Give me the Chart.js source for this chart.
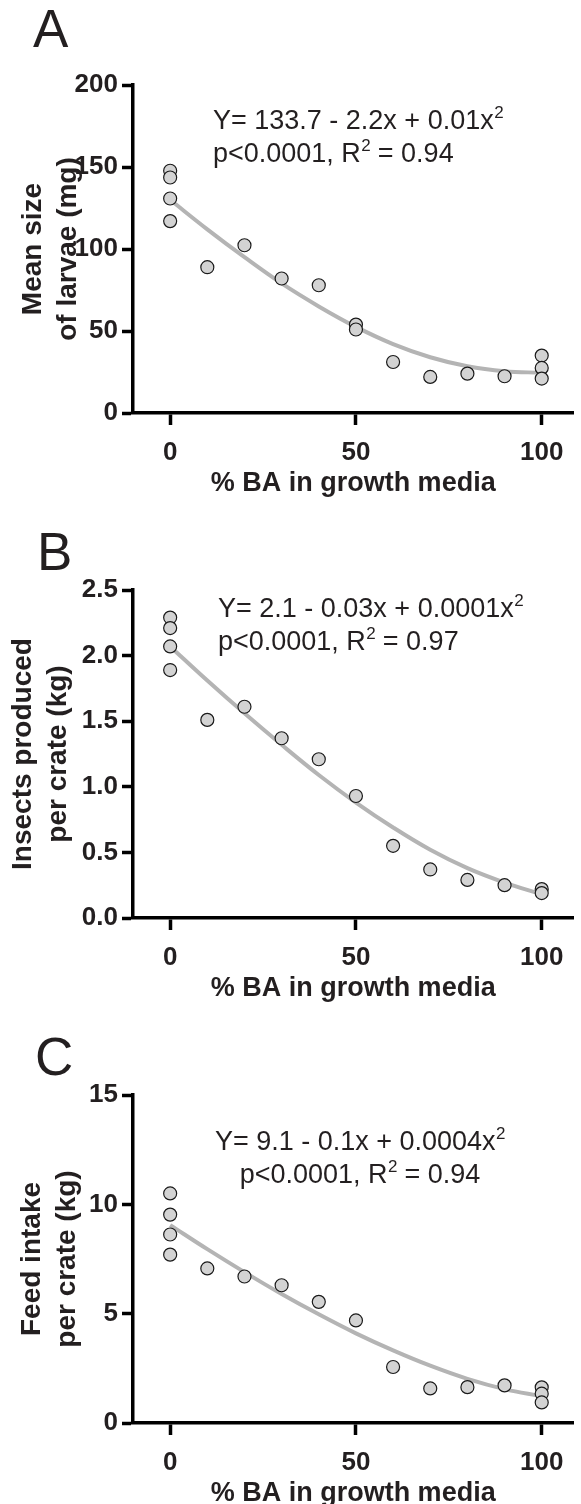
<!DOCTYPE html>
<html>
<head>
<meta charset="utf-8">
<script src="https://cdn.jsdelivr.net/npm/chart.js@4.4.1/dist/chart.umd.min.js"></script>
<style>
  html, body { margin: 0; padding: 0; background: #fff; }
  body { width: 581px; height: 1504px; overflow: hidden; position: relative; }
  .panel { position: absolute; left: 0; width: 581px; height: 505px; }
</style>
</head>
<body>
<div class="panel" style="top:0"><canvas id="chartA"></canvas></div>
<div class="panel" style="top:505px"><canvas id="chartB"></canvas></div>
<div class="panel" style="top:1010px"><canvas id="chartC"></canvas></div>
<script>
/**
 * Three quadratic-fit scatter panels (A, B, C) vs % BA in growth media.
 */
const FONT = "'Liberation Sans', Arial, Helvetica, sans-serif";
const INK = "#231f20";

const X_TICKS = [0, 50, 100];
const X_TITLE = "% BA in growth media";
const FIT_X = [0, 10, 20, 30, 40, 50, 60, 70, 80, 90, 100];

// Panel A – mean size of larvae (mg)
const A_X = [0, 0, 0, 0, 10, 20, 30, 40, 50, 50, 60, 70, 80, 90, 100, 100, 100];
const A_Y = [147.7, 143.6, 130.8, 117, 88.9, 102.3, 82, 77.9, 53.9, 50.9, 31.1, 22, 24, 22.4, 35, 27.5, 21];
const A_FIT = [130, 112, 95, 79, 65, 52.5, 42, 34, 28.5, 25.5, 24.5];
const A_TICKS = [0, 50, 100, 150, 200];
const A_TITLE = ["Mean size", "of larvae (mg)"];
const A_EQ = ["Y= 133.7 - 2.2x + 0.01x", "p<0.0001, R", " = 0.94"];

// Panel B – insects produced per crate (kg)
const B_X = [0, 0, 0, 0, 10, 20, 30, 40, 50, 60, 70, 80, 90, 100, 100];
const B_Y = [2.29, 2.21, 2.07, 1.89, 1.51, 1.61, 1.37, 1.21, 0.93, 0.55, 0.37, 0.29, 0.25, 0.22, 0.19];
const B_FIT = [2.07, 1.81, 1.56, 1.32, 1.09, 0.88, 0.69, 0.52, 0.38, 0.27, 0.18];
const B_TICKS = [0, 0.5, 1.0, 1.5, 2.0, 2.5];
const B_TITLE = ["Insects produced", "per crate (kg)"];
const B_EQ = ["Y= 2.1 - 0.03x + 0.0001x", "p<0.0001, R", " = 0.97"];

// Panel C – feed intake per crate (kg)
const C_X = [0, 0, 0, 0, 10, 20, 30, 40, 50, 60, 70, 80, 90, 100, 100, 100];
const C_Y = [10.5, 9.53, 8.62, 7.7, 7.07, 6.7, 6.3, 5.54, 4.69, 2.56, 1.58, 1.64, 1.72, 1.63, 1.34, 0.94];
const C_FIT = [9.05, 7.95, 6.9, 5.9, 4.97, 4.1, 3.32, 2.62, 2.02, 1.55, 1.22];
const C_TICKS = [0, 5, 10, 15];
const C_TITLE = ["Feed intake", "per crate (kg)"];
const C_EQ = ["Y= 9.1 - 0.1x + 0.0004x", "p<0.0001, R", " = 0.94"];

const PLOT_LEFT = 133;
const PLOT_TOP = 85;
const PLOT_BOTTOM = 413;
const CANVAS_H = 505;

function pairs(xs, ys) {
  return xs.map((x, i) => ({ x, y: ys[i] }));
}

// text run with a superscript "2" after each piece except the last
function drawSupLine(ctx, pieces, x, y, align) {
  const main = `27px ${FONT}`;
  const sup = `17px ${FONT}`;
  ctx.font = sup;
  const supW = ctx.measureText("2").width;
  ctx.font = main;
  let total = 0;
  pieces.forEach((p, i) => {
    total += ctx.measureText(p).width;
    if (i < pieces.length - 1) total += supW;
  });
  let cx = align === "center" ? x - total / 2 : x;
  ctx.textAlign = "left";
  ctx.textBaseline = "alphabetic";
  pieces.forEach((p, i) => {
    ctx.font = main;
    ctx.fillText(p, cx, y);
    cx += ctx.measureText(p).width;
    if (i < pieces.length - 1) {
      ctx.font = sup;
      ctx.fillText("2", cx + 0.5, y - 11);
      cx += supW;
    }
  });
}

const annotationPlugin = {
  id: "panelText",
  afterDraw(chart, args, o) {
    const ctx = chart.ctx;
    ctx.save();
    ctx.fillStyle = INK;
    ctx.font = `53px ${FONT}`;
    ctx.textAlign = "left";
    ctx.textBaseline = "alphabetic";
    ctx.fillText(o.letter, o.letterX, o.letterY);
    drawSupLine(ctx, [o.eq[0], ""], o.eqX, o.eqY, o.eqAlign);
    drawSupLine(ctx, [o.eq[1], o.eq[2]], o.eqX, o.eqY + 33, o.eqAlign);
    ctx.restore();
  },
};

function makePanel(id, cfg) {
  const canvas = document.getElementById(id);
  canvas.width = 581;
  canvas.height = CANVAS_H;
  new Chart(canvas, {
    type: "scatter",
    data: {
      datasets: [
        {
          type: "scatter",
          data: pairs(cfg.xs, cfg.ys),
          pointRadius: 6.5,
          pointBackgroundColor: "#d3d3d3",
          pointBorderColor: "#1a1a1a",
          pointBorderWidth: 1.2,
        },
        {
          type: "line",
          data: pairs(FIT_X, cfg.fit),
          borderColor: "#b4b4b4",
          borderWidth: 4,
          pointRadius: 0,
          tension: 0.4,
          fill: false,
        },
      ],
    },
    options: {
      responsive: false,
      animation: false,
      devicePixelRatio: 1,
      layout: { padding: { top: PLOT_TOP, left: 0, right: 1, bottom: 0 } },
      plugins: {
        legend: { display: false },
        tooltip: { enabled: false },
        panelText: cfg.text,
      },
      scales: {
        x: {
          type: "linear",
          min: -10,
          max: 108.5,
          afterBuildTicks: (s) => { s.ticks = X_TICKS.map((v) => ({ value: v })); },
          afterFit: (s) => { s.height = CANVAS_H - PLOT_BOTTOM; },
          border: { display: true, color: "#000", width: 3.5 },
          grid: { drawOnChartArea: false, drawTicks: true, tickLength: 12, tickWidth: 3.5, tickColor: "#000" },
          ticks: { color: INK, padding: 12, font: { family: FONT, size: 26, weight: "bold" }, maxRotation: 0 },
          title: {
            display: true,
            text: X_TITLE,
            color: INK,
            padding: { top: 0, bottom: 5 },
            font: { family: FONT, size: 27, weight: "bold", lineHeight: 1.2 },
          },
        },
        y: {
          type: "linear",
          min: cfg.ticks[0],
          max: cfg.ticks[cfg.ticks.length - 1],
          afterBuildTicks: (s) => { s.ticks = cfg.ticks.map((v) => ({ value: v })); },
          afterFit: (s) => { s.width = PLOT_LEFT; },
          border: { display: true, color: "#000", width: 3.5 },
          grid: { drawOnChartArea: false, drawTicks: true, tickLength: 11, tickWidth: 3.5, tickColor: "#000" },
          ticks: {
            color: INK,
            padding: 4,
            font: { family: FONT, size: 26, weight: "bold" },
            callback: (v) => (cfg.decimals ? Number(v).toFixed(cfg.decimals) : String(v)),
          },
          title: {
            display: true,
            text: cfg.title,
            color: INK,
            padding: { top: cfg.titlePad, bottom: 0 },
            font: { family: FONT, size: 28, weight: "bold", lineHeight: 1.25 },
          },
        },
      },
    },
    plugins: [annotationPlugin],
  });
}

makePanel("chartA", {
  xs: A_X, ys: A_Y, fit: A_FIT, ticks: A_TICKS, title: A_TITLE, titlePad: 15.5, decimals: 0,
  text: { letter: "A", letterX: 33, letterY: 47, eq: A_EQ, eqX: 213, eqY: 129, eqAlign: "left" },
});
makePanel("chartB", {
  xs: B_X, ys: B_Y, fit: B_FIT, ticks: B_TICKS, title: B_TITLE, titlePad: 5.5, decimals: 1,
  text: { letter: "B", letterX: 37, letterY: 65, eq: B_EQ, eqX: 218, eqY: 112, eqAlign: "left" },
});
makePanel("chartC", {
  xs: C_X, ys: C_Y, fit: C_FIT, ticks: C_TICKS, title: C_TITLE, titlePad: 14.5, decimals: 0,
  text: { letter: "C", letterX: 35, letterY: 65, eq: C_EQ, eqX: 360, eqY: 140, eqAlign: "center" },
});
</script>
</body>
</html>
